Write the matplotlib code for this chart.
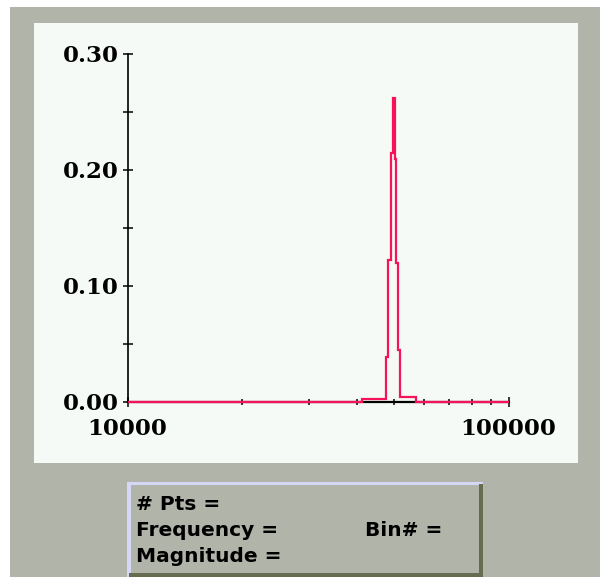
import matplotlib
matplotlib.use("Agg")
import matplotlib.pyplot as plt
from matplotlib.patches import Rectangle
from matplotlib.ticker import FixedLocator, NullFormatter, FormatStrFormatter

# spectrum (bin edges in Hz, magnitude per bin)
freq_edges = [10000, 41300, 47760, 48220, 49210, 49690, 50290,
              50710, 51200, 52040, 57240, 100000]
magnitude = [0, 0.003, 0.039, 0.122, 0.215, 0.262, 0.2095,
             0.120, 0.045, 0.004, 0]

x_ticks = [10000, 100000]
x_tick_labels = ["10000", "100000"]
x_minor = [20000, 30000, 40000, 50000, 60000, 70000, 80000, 90000]
y_ticks = [0.0, 0.1, 0.2, 0.3]
y_minor = [0.05, 0.15, 0.25]

info_lines = ["# Pts =", "Frequency =", "Magnitude ="]
bin_label = "Bin# ="

W, H = 600, 577
fig = plt.figure(figsize=(W / 100, H / 100), dpi=100, facecolor="white")


def px_rect(x0, y0, x1, y1, color):
    # rectangle given in pixel coords (origin top-left)
    r = Rectangle((x0 / W, 1 - y1 / H), (x1 - x0) / W, (y1 - y0) / H,
                  transform=fig.transFigure, facecolor=color,
                  edgecolor="none", zorder=0)
    fig.add_artist(r)


gray = "#b1b4a9"
px_rect(10, 7, 600, 577, gray)
px_rect(34, 23, 578, 463, "#f5faf6")

# info box
px_rect(127, 482, 483, 577, gray)
px_rect(127, 482, 483, 485, "#d6d6f6")
px_rect(127, 482, 131, 577, "#d6d6f6")
px_rect(479, 484, 483, 577, "#676b4f")
px_rect(129, 573, 483, 577, "#676b4f")

ax = fig.add_axes([127.5 / W, 1 - 402 / H, (508.5 - 127.5) / W, 348 / H])
ax.set_facecolor("none")
ax.set_xscale("log")
ax.set_xlim(10000, 100000)
ax.set_ylim(0, 0.3)

ax.stairs(magnitude, freq_edges, baseline=None, color="#f7135b",
          linewidth=1.6, clip_on=False, zorder=3)

for s in ["top", "right"]:
    ax.spines[s].set_visible(False)
ax.spines["left"].set_linewidth(1.2)
ax.spines["bottom"].set_linewidth(1.6)

ax.xaxis.set_major_locator(FixedLocator(x_ticks))
ax.set_xticklabels(x_tick_labels)
ax.xaxis.set_minor_locator(FixedLocator(x_minor))
ax.xaxis.set_minor_formatter(NullFormatter())
ax.yaxis.set_major_locator(FixedLocator(y_ticks))
ax.yaxis.set_minor_locator(FixedLocator(y_minor))
ax.yaxis.set_major_formatter(FormatStrFormatter("%.2f"))

tick_font = {"family": "DejaVu Serif", "weight": "bold", "size": 16.5}
for lab in ax.get_xticklabels() + ax.get_yticklabels():
    lab.set_fontfamily(tick_font["family"])
    lab.set_fontweight(tick_font["weight"])
    lab.set_fontsize(tick_font["size"])

ax.tick_params(axis="x", which="major", direction="inout", length=7.2,
               width=1.1, pad=8)
ax.tick_params(axis="x", which="minor", direction="inout", length=4.3,
               width=1.1)
ax.tick_params(axis="y", which="both", direction="inout", length=6.5,
               width=1.1, pad=3)

# info box text
baselines = [510, 536, 562]
for txt, yb in zip(info_lines, baselines):
    fig.text(136 / W, 1 - yb / H, txt, fontsize=14.5, fontweight="bold",
             family="DejaVu Sans", va="baseline", ha="left")
fig.text(365 / W, 1 - 536 / H, bin_label, fontsize=14.5, fontweight="bold",
         family="DejaVu Sans", va="baseline", ha="left")

fig.savefig("out.png", dpi=100, facecolor=fig.get_facecolor())
